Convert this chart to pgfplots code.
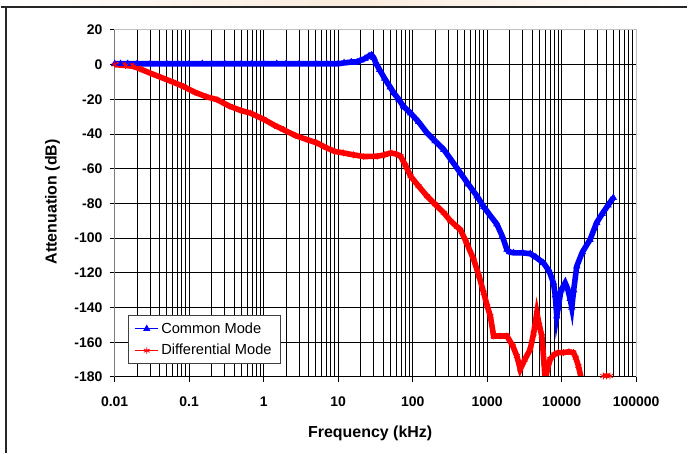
\documentclass[border=0pt]{standalone}
\usepackage{pgfplots}
\pgfplotsset{compat=1.18}
\usepackage{fontspec}
\setmainfont{Liberation Sans}
\definecolor{cmblue}{RGB}{0,0,255}
\definecolor{dmred}{RGB}{255,0,0}
\definecolor{peach}{RGB}{250,236,222}
\begin{document}
\begin{tikzpicture}
% page: 688x454 px, 1 px = 0.75 pt
\path (0,0) rectangle (516pt,340.5pt);
\shade[left color=white, right color=white, middle color=peach] (0pt,335.25pt) rectangle (516pt,340.5pt);
\draw[line width=1.5pt, black!85] (0pt,335.25pt) -- (516pt,335.25pt);
\draw[line width=1.5pt, black!85] (3.75pt,0pt) -- (3.75pt,335.25pt);
\begin{axis}[
    at={(85.5pt,57pt)}, anchor=south west,
    scale only axis,
    width=392.25pt, height=261pt,
    xmode=log,
    xmin=0.01, xmax=100000,
    ymin=-180, ymax=20,
    xtick={0.01,0.1,1,10,100,1000,10000,100000},
    xticklabels={0.01,0.1,1,10,100,1000,10000,100000},
    ytick={-180,-160,-140,-120,-100,-80,-60,-40,-20,0,20},
    yticklabels={-180,-160,-140,-120,-100,-80,-60,-40,-20,0,20},
    minor y tick num=0,
    grid=both,
    major grid style={black, line width=0.75pt},
    minor grid style={black, line width=0.75pt},
    axis line style={gray!50, line width=0.75pt},
    tick align=outside,
    xtick pos=bottom, ytick pos=left,
    major tick length=3.75pt,
    minor tick length=0pt,
    tick style={black, line width=0.75pt},
    ticklabel style={font=\fontsize{10.5}{12}\selectfont\bfseries},
    xticklabel style={yshift=-8pt},
    yticklabel style={xshift=-2pt},
    xlabel={Frequency (kHz)},
    ylabel={Attenuation (dB)},
    label style={font=\fontsize{12}{14}\selectfont\bfseries},
    xlabel style={at={(axis description cs:0.49,-0.164)}, anchor=center},
    ylabel style={at={(axis description cs:-0.119,0.505)}, anchor=center},
    unbounded coords=jump,
    legend style={at={(axis description cs:0.025,0.037)}, anchor=south west,
        draw=black!75, line width=0.75pt, fill=white,
        font=\fontsize{11}{13}\selectfont, row sep=3pt,
        inner xsep=5pt, inner ysep=3pt},
    legend cell align=left,
    legend image post style={line width=0.8pt, mark size=2.5pt},
]
\addplot[cmblue, line width=4.2pt, mark=triangle*, mark size=2.6pt, mark options={solid, line width=0.6pt}] coordinates {
    (0.01,0.5) (0.012,0.5) (0.015,0.5) (0.02,0.5) (0.03,0.5) (0.05,0.5)
    (0.07,0.5) (0.1,0.5) (0.15,0.5) (0.2,0.5) (0.3,0.5) (0.5,0.5)
    (0.7,0.5) (1,0.5) (1.5,0.5) (2,0.5) (3,0.5) (5,0.5) (7,0.5) (10,0.5)
    (12,1) (15,1.5) (18,1.5) (20,2.5) (23,3.5) (26,5) (28,5.5) (30,4)
    (32,1) (36,-3) (42,-8) (50,-13) (56,-16.4) (65,-20) (75,-24)
    (94,-28) (120,-33) (156,-39.4) (200,-44) (262,-49) (330,-55)
    (437,-62.4) (560,-69) (731,-75.8) (900,-82) (1100,-87) (1352,-92)
    (1600,-99) (1841,-106.6) (2000,-108) (2264,-108.5) (3000,-108.5)
    (3785,-109) (4500,-111) (5700,-114.3) (6800,-119) (7762,-125.8)
    (8200,-133) (8600,-145) (9000,-140) (9800,-130) (11140,-125.8)
    (12000,-129) (13000,-135) (13680,-140) (14500,-130) (15960,-116.2)
    (19000,-108) (24040,-100.9) (29500,-91.1) (35000,-86) (42000,-81)
    (49400,-76.7)
};
\addlegendentry{Common Mode}
\addplot[dmred, line width=4.2pt, mark=asterisk, mark size=2.6pt, mark options={solid, line width=0.6pt}] coordinates {
    (0.01,0) (0.014,-0.5) (0.018,-1) (0.022,-2.5) (0.03,-4.9) (0.04,-7)
    (0.06,-10) (0.084,-12.6) (0.12,-16) (0.17,-18.5) (0.237,-20.2)
    (0.35,-24) (0.5,-26.5) (0.66,-27.9) (1,-31.5) (1.4,-35) (1.85,-37.5)
    (2.7,-41) (3.7,-43) (5.17,-45.1) (7,-48) (9,-50) (11.7,-50.9)
    (16,-52) (22,-53) (33.5,-52.8) (42,-52) (50.6,-50.9) (60,-51.5)
    (68.8,-52.8) (80,-58) (93.7,-64.3) (120,-70) (156,-75.8) (200,-80.5)
    (262,-85.4) (321,-90) (394,-93.5) (437,-95.1) (520,-102) (661,-112.4)
    (780,-122) (898,-131.5) (1000,-139) (1104,-145) (1222,-156.4)
    (1500,-156.4) (1841,-156.4) (2200,-162) (2506,-168) (2780,-175.6)
    (3200,-170) (3785,-164.1) (4200,-155) (4645,-143) (5000,-150)
    (5420,-156.4) (5800,-172) (6010,-182) (6500,-175) (7018,-169.8)
    (8000,-167) (9000,-166) (10570,-166) (12500,-165.5) (14390,-166)
    (15500,-169) (16790,-173.7) (18580,-182)
    (25000,nan)
    (36300,-179.5) (40000,-179.5) (44500,-179.5)
};
\addlegendentry{Differential Mode}
\draw[black, line width=0.75pt] (rel axis cs:0,1) -- (rel axis cs:0,0) -- (rel axis cs:1,0);
\end{axis}
\end{tikzpicture}
\end{document}
